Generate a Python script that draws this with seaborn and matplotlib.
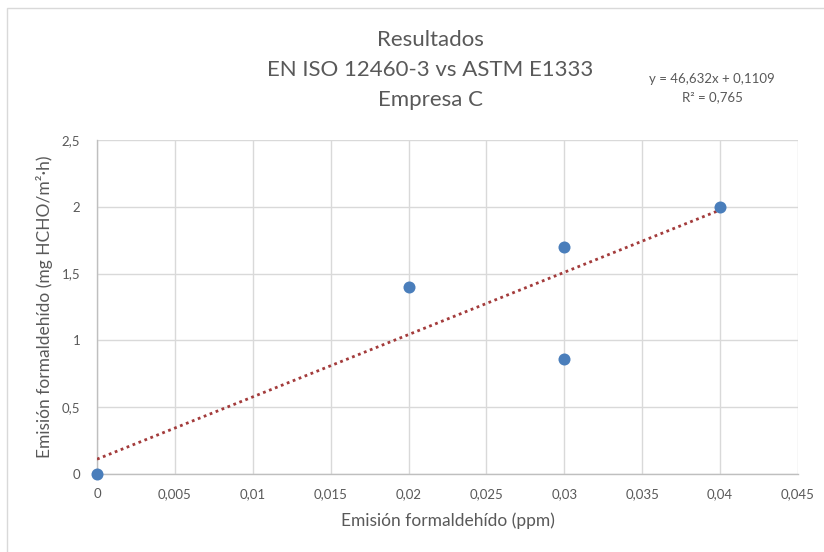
import matplotlib
matplotlib.use("Agg")
import matplotlib.pyplot as plt
import seaborn as sns
import numpy as np
import pandas as pd
from matplotlib.ticker import FuncFormatter, MultipleLocator
from matplotlib.patches import Rectangle

# Data
emision_ppm = [0.0, 0.02, 0.03, 0.03, 0.04]
emision_mg = [0.0, 1.4, 1.7, 0.86, 2.0]
trend_slope = 46.632
trend_intercept = 0.1109
title_lines = ["Resultados", "EN ISO 12460-3 vs ASTM E1333", "Empresa C"]
eq_text = "y = 46,632x + 0,1109"
r2_text = "R² = 0,765"
xlabel = "Emisión formaldehído (ppm)"
ylabel = "Emisión formaldehído (mg HCHO/m²·h)"

df = pd.DataFrame({"x": emision_ppm, "y": emision_mg})

sns.set_theme(style="white")
plt.rcParams['font.family'] = ['Lato', 'DejaVu Sans']

fig = plt.figure(figsize=(8.24, 5.52), dpi=100)
ax = fig.add_axes([97/824, 1-474/552, (798-97)/824, (474-140)/552])

gray_text = "#595959"

# trend line
xs = np.array([min(emision_ppm), max(emision_ppm)])
ax.plot(xs, trend_slope*xs + trend_intercept, linestyle=(0, (1, 1.3)), color="#A33B3B",
        linewidth=2.0, zorder=3)

sns.scatterplot(data=df, x="x", y="y", ax=ax, s=75, color="#4A7EBB", edgecolor="#4A7EBB",
                linewidth=0, zorder=4, clip_on=False)

ax.set_xlim(0, 0.045)
ax.set_ylim(0, 2.5)
ax.xaxis.set_major_locator(MultipleLocator(0.005))
ax.yaxis.set_major_locator(MultipleLocator(0.5))

def fmt(v, pos):
    s = f"{v:.3f}".rstrip("0").rstrip(".")
    if s in ("-0",):
        s = "0"
    return s.replace(".", ",")

ax.xaxis.set_major_formatter(FuncFormatter(fmt))
ax.yaxis.set_major_formatter(FuncFormatter(fmt))

ax.grid(True, color="#D9D9D9", linewidth=1.0)
ax.set_axisbelow(True)
for side in ["top", "right"]:
    ax.spines[side].set_visible(False)
for side in ["left", "bottom"]:
    ax.spines[side].set_color("#BFBFBF")
    ax.spines[side].set_linewidth(1.0)

ax.tick_params(axis="both", length=0, labelsize=9.5, labelcolor=gray_text)
ax.tick_params(axis="x", pad=10)
ax.tick_params(axis="y", pad=12)
ax.set_xlabel(xlabel, fontsize=12.5, color=gray_text, labelpad=9)
ax.set_ylabel(ylabel, fontsize=12.5, color=gray_text, labelpad=6)

# title
for t, yy in zip(title_lines, [40, 70, 100]):
    fig.text(430/824, 1-yy/552, t, ha="center", va="center", fontsize=16,
             color=gray_text)

fig.text(712/824, 1-79/552, eq_text, ha="center", va="center", fontsize=9.5,
         color=gray_text)
fig.text(712/824, 1-97/552, r2_text, ha="center", va="center", fontsize=9.5,
         color=gray_text)

# chart border
fig.patches.append(Rectangle((7/824, -10/552), 830/824, 554/552, transform=fig.transFigure,
                             fill=False, edgecolor="#D9D9D9", linewidth=1.0))

fig.savefig("out.png", dpi=100, facecolor="white")
